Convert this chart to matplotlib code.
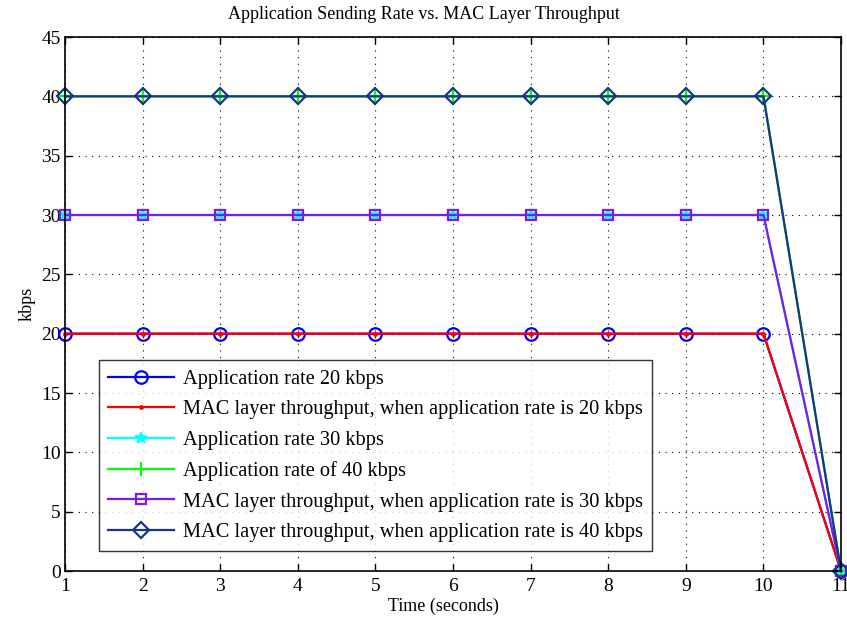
import matplotlib
matplotlib.use("Agg")
import matplotlib.pyplot as plt
import numpy as np

plt.rcParams['font.family'] = ['Liberation Serif', 'DejaVu Serif']
plt.rcParams['mathtext.fontset'] = 'stix'

time_s = [1, 2, 3, 4, 5, 6, 7, 8, 9, 10, 11]
app_rate_20 = [20, 20, 20, 20, 20, 20, 20, 20, 20, 20, 0]
mac_rate_20 = [20, 20, 20, 20, 20, 20, 20, 20, 20, 20, 0]
app_rate_30 = [30, 30, 30, 30, 30, 30, 30, 30, 30, 30, 0]
app_rate_40 = [40, 40, 40, 40, 40, 40, 40, 40, 40, 40, 0]
mac_rate_30 = [30, 30, 30, 30, 30, 30, 30, 30, 30, 30, 0]
mac_rate_40 = [40, 40, 40, 40, 40, 40, 40, 40, 40, 40, 0]

labels = [
    'Application rate 20 kbps',
    'MAC layer throughput, when application rate is 20 kbps',
    'Application rate 30 kbps',
    'Application rate of 40 kbps',
    'MAC layer throughput, when application rate is 30 kbps',
    'MAC layer throughput, when application rate is 40 kbps',
]

fig = plt.figure(figsize=(8.47, 6.24), dpi=100)
ax = fig.add_axes([0.0767, 0.0849, 0.9163, 0.8558])

lw = 1.6
common = dict(lw=lw, clip_on=False)
ax.plot(time_s, app_rate_20, color=(0, 0, 1), marker='o', ms=9,
        mfc='none', mew=1.6, label=labels[0], **common)
ax.plot(time_s, mac_rate_20, color=(1, 0, 0), marker='.', ms=5,
        label=labels[1], **common)
ax.plot(time_s, app_rate_30, color=(0, 1, 1), marker='*', ms=9,
        mew=1.2, label=labels[2], **common)
ax.plot(time_s, app_rate_40, color=(0, 1, 0), marker='+', ms=10,
        mew=1.6, label=labels[3], **common)
ax.plot(time_s, mac_rate_30, color=(0.5, 0.1, 0.9), marker='s', ms=7,
        mfc='none', mew=1.6, label=labels[4], **common)
ax.plot(time_s, mac_rate_40, color=(0.1, 0.2, 0.55), marker='D', ms=8,
        mfc='none', mew=1.6, label=labels[5], **common)

ax.set_xlim(1, 11)
ax.set_ylim(0, 45)
ax.set_xticks(np.arange(1, 12, 1))
ax.set_yticks(np.arange(0, 46, 5))
ax.tick_params(direction='in', length=5, width=1, labelsize=14, top=True,
               right=True, pad=3)
ax.tick_params(axis='x', pad=5)
ax.grid(True, color='black', linestyle=(0, (1, 5)), linewidth=0.8)
for sp in ax.spines.values():
    sp.set_linewidth(1.2)

ax.set_xlabel('Time (seconds)', fontsize=13, labelpad=2, x=0.488)
ax.set_ylabel('kbps', fontsize=13, labelpad=4)
ax.set_title('Application Sending Rate vs. MAC Layer Throughput', fontsize=13,
             pad=13, x=0.462)

leg = ax.legend(loc='lower left', bbox_to_anchor=(0.044, 0.037), fontsize=14.7,
                frameon=True, fancybox=False, edgecolor='black',
                handlelength=3.2, borderpad=0.45, labelspacing=0.55,
                handletextpad=0.45, borderaxespad=0)
leg.get_frame().set_linewidth(1.0)

fig.savefig('out.png', dpi=100)
